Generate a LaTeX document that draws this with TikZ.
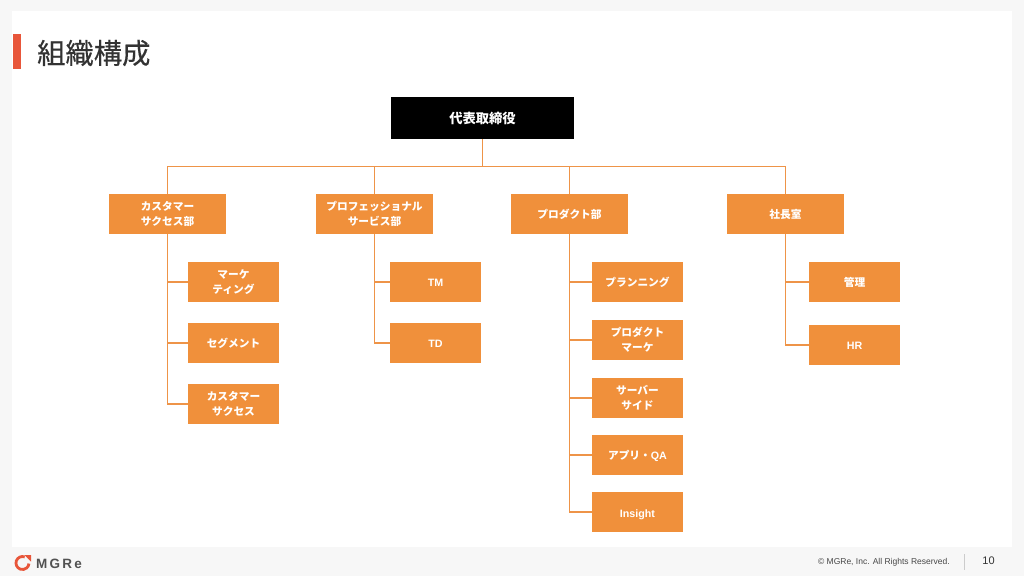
\documentclass[tikz,border=0pt]{standalone}
\usepackage{fontspec}
\setmainfont{Noto Sans CJK JP}
\newfontfamily\ttl[FakeBold=0.35]{Noto Sans CJK JP}
\newfontfamily\lat{Liberation Sans}
\definecolor{boxor}{HTML}{F0903B}
\definecolor{lineor}{HTML}{EE9448}
\definecolor{accent}{HTML}{E8563A}
\definecolor{slidebg}{HTML}{F7F7F7}
\definecolor{ink}{HTML}{333333}
\tikzset{
  bx/.style={fill=boxor,draw=none,text=white,inner sep=0pt,align=center,font=\fontsize{10.7}{15}\selectfont\bfseries},
  topbox/.style={bx,fill=black,minimum width=183pt,minimum height=42pt,font=\fontsize{13.3}{15}\selectfont\bfseries},
  dept/.style={bx,minimum width=117pt,minimum height=40.5pt},
  sub/.style={bx,minimum width=91pt,minimum height=40pt},
  sublat/.style={sub,text height=8.8pt,text depth=0pt},
  link/.style={draw=lineor,line width=1.15pt},
}
\begin{document}
\begin{tikzpicture}[x=1pt,y=-1pt]
\useasboundingbox (0,0) rectangle (1024,576);
\fill[slidebg] (0,0) rectangle (1024,576);
\fill[white] (12,11) rectangle (1012,547);
\fill[accent] (13,34) rectangle (21,69);
\node[anchor=west,inner sep=0pt,text=ink,font=\ttl\fontsize{28.3}{32}\selectfont] (title) at (37,53) {組織構成};

\node[topbox] (top) at (482.5,118) {代表取締役};
\node[dept] (d1) at (167.5,214) {カスタマー\\サクセス部};
\node[dept] (d2) at (374.5,214) {プロフェッショナル\\サービス部};
\node[dept] (d3) at (569.5,214) {プロダクト部};
\node[dept] (d4) at (785.5,214) {社長室};

\node[sub] (a1) at (233.5,282) {マーケ\\ティング};
\node[sub] (a2) at (233.5,343) {セグメント};
\node[sub] (a3) at (233.5,404) {カスタマー\\サクセス};
\node[sublat] (b1) at (435.5,282) {\lat\bfseries TM};
\node[sublat] (b2) at (435.5,343) {\lat\bfseries TD};
\node[sub] (c1) at (637.5,282) {プランニング};
\node[sub] (c2) at (637.5,340) {プロダクト\\マーケ};
\node[sub] (c3) at (637.5,398) {サーバー\\サイド};
\node[sublat] (c4) at (637.5,455) {アプリ・{\lat\bfseries QA}};
\node[sublat,text height=10pt] (c5) at (637.5,512) {\lat\bfseries Insight};
\node[sub] (e1) at (854.5,282) {管理};
\node[sublat] (e2) at (854.5,345) {\lat\bfseries HR};

\coordinate (bus) at (482.5,166.5);
\draw[link] (top.south) -- (bus);
\foreach \d in {d1,d2,d3,d4}{\draw[link] (bus) -| (\d.north);}
\foreach \s in {a1,a2,a3}{\draw[link] (d1.south) |- (\s.west);}
\foreach \s in {b1,b2}{\draw[link] (d2.south) |- (\s.west);}
\foreach \s in {c1,c2,c3,c4,c5}{\draw[link] (d3.south) |- (\s.west);}
\foreach \s in {e1,e2}{\draw[link] (d4.south) |- (\s.west);}

% footer
\draw[accent,line width=2.8pt] (24.7,556.9) arc[start angle=-70,end angle=-355,radius=6.5];
\fill[accent] (24.5,555) -- (31,555) -- (31,561.5) -- cycle;
\node[anchor=west,inner sep=0pt,text=ink!85,font=\lat\fontsize{13.5}{15}\selectfont\bfseries] (logo) at (36,563.5) {M\kern2.2pt G\kern2.2pt R\kern2.2pt e};
\node[anchor=east,inner sep=0pt,text=ink!90,font=\lat\fontsize{8.5}{10}\selectfont] (copy) at (950,562) {© MGRe, Inc. All Rights Reserved.};
\draw[black!20,line width=0.7pt] (964,554) -- (964,570);
\node[anchor=center,inner sep=0pt,text=ink,font=\lat\fontsize{11}{12}\selectfont] (page) at (988.5,561) {10};
\end{tikzpicture}
\end{document}
